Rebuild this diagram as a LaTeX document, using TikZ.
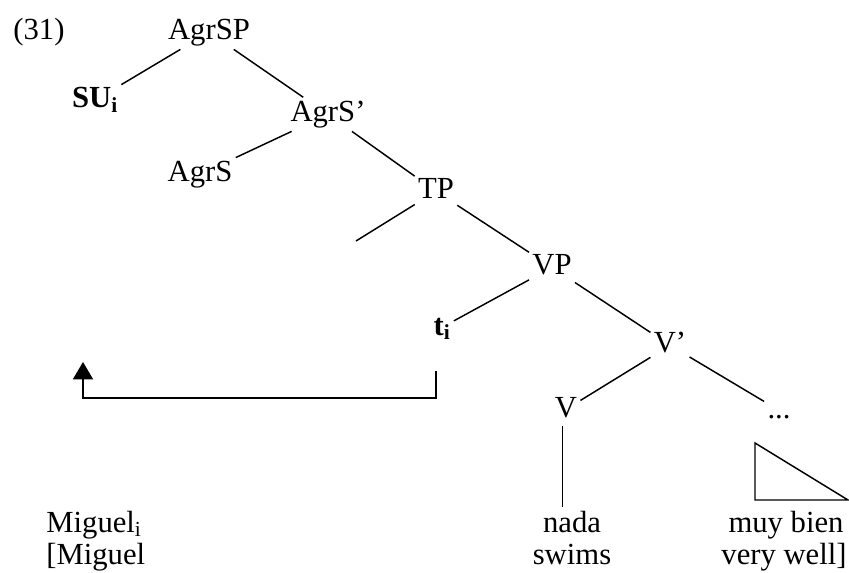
\documentclass[tikz,border=0pt]{standalone}
\usepackage{fontspec}
\setmainfont{Liberation Serif}
\usetikzlibrary{arrows.meta, positioning}

\begin{document}
\begin{tikzpicture}[
    x=0.75pt, y=-0.75pt,
    font=\fontsize{23}{28}\selectfont,
    line width=1.1pt,
    word/.style={
      anchor=base,
      inner sep=2pt,
      text height=16pt,
      text depth=4.5pt
    },
    leftword/.style={
      word,
      anchor=base west
    },
    movearrow/.style={-{Triangle[length=13pt, width=15pt]}}
]
\useasboundingbox (0,0) rectangle (849,573);

\node[leftword] (num) at (10,40) {(31)};
\node[word] (agrsp) at (209,40) {AgrSP};
\node[word] (su) at (95,108) {\textbf{SU\textsubscript{i}}};
\node[word] (agrsbar) at (328,122) {AgrS’};
\node[word] (agrs) at (200,182) {AgrS};
\node[word] (tp) at (436,199) {TP};
\coordinate (tpspec) at (356,241);
\node[word] (vp) at (552,275) {VP};
\node[word] (ti) at (442,335) {\textbf{t\textsubscript{i}}};
\node[word] (vbar) at (670,353) {V’};
\node[word] (v) at (566,417) {V};
\node[word] (dots) at (779,418) {...};

% words and glosses
\node[leftword] (miguel) at (43,532) {Miguel\textsubscript{i}};
\node[leftword] (miguelgl) at (43,564) {[Miguel};
\node[word] (nada) at (572,532) {nada};
\node[word] (swims) at (572,564) {swims};
\node[word] (muybien) at (786,532) {muy bien};
\node[word] (verywell) at (784,564) {very well]};

\draw (agrsp) -- (su);
\draw (agrsp) -- (agrsbar);
\draw (agrsbar) -- (agrs);
\draw (agrsbar) -- (tp);
\draw (tp) -- (tpspec);
\draw (tp) -- (vp);
\draw (vp) -- (ti);
\draw (vp) -- (vbar);
\draw (vbar) -- (v);
\draw (vbar) -- (dots);
\draw ([xshift=-2.5pt]v.south) -- ([xshift=-2.5pt]v.south |- nada.north);
\draw (755,443) -- (755,500) -- (848,500) -- cycle;

% movement of the subject
\coordinate (trace) at (436,371);
\coordinate (landing) at (83,362);
\draw[movearrow] (trace) -- ++(0,27) -| (landing);
\end{tikzpicture}
\end{document}
